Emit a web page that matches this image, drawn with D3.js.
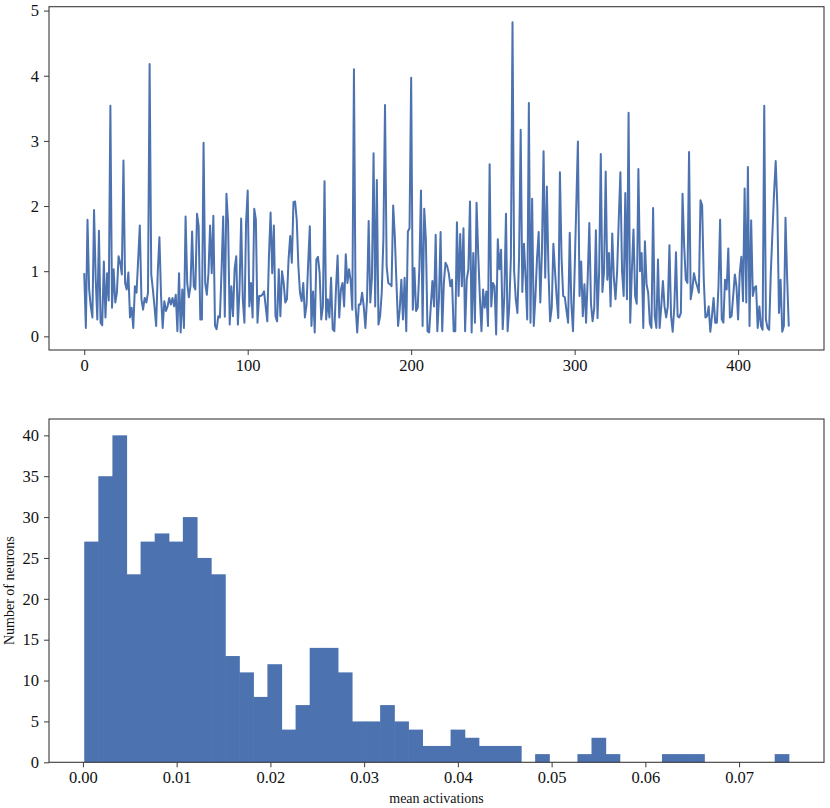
<!DOCTYPE html>
<html><head><meta charset="utf-8">
<script src="https://cdn.jsdelivr.net/npm/d3@7"></script>
<style>
body{margin:0;background:#fff;}
svg text{font-family:"Liberation Serif","Times New Roman",serif;fill:#111;}
</style></head><body><svg id="c" width="830" height="808"></svg>
<script>
// ---- data: top panel (per-neuron trace) ----
const activations = [
0.97,0.13,1.79,0.72,0.46,0.29,1.94,0.9,0.26,1.62,
0.21,0.17,1.15,0.29,0.97,0.55,3.54,0.44,1.03,0.52,
0.67,1.23,1.13,0.95,2.70,0.82,0.72,0.98,0.29,0.44,
0.13,0.77,0.67,1.18,1.70,0.57,0.41,0.59,0.52,0.67,
4.18,0.95,0.72,0.45,0.16,1.0,1.52,0.62,0.13,0.54,
0.39,0.46,0.59,0.49,0.59,0.46,0.64,0.08,0.97,0.06,
0.72,0.13,1.84,0.82,0.6,0.77,1.61,0.77,0.72,1.88,
1.69,0.26,0.26,2.97,0.82,0.64,0.97,1.70,0.97,1.85,
0.16,0.11,0.31,0.29,1.0,1.84,
0.3,2.19,1.75,0.18,0.77,0.31,1.03,1.23,0.18,0.72,
1.81,0.57,0.21,1.74,2.24,0.46,0.82,0.29,1.96,1.79,
0.21,0.62,0.62,0.64,0.69,0.46,0.23,1.23,1.90,0.97,
1.70,0.31,0.23,1.03,0.31,1.0,0.82,0.52,0.57,1.18,
1.54,1.13,2.06,2.07,1.79,1.08,0.67,0.54,0.82,0.29,
0.49,1.13,1.69,0.16,0.69,0.06,1.18,1.22,0.97,0.26,
0.46,2.38,0.26,0.57,0.29,0.9,0.11,0.08,0.72,1.24,
0.29,0.72,0.82,0.46,1.26,0.82,1.03,0.85,0.41,4.10,
0.46,0.06,0.49,0.49,0.67,0.46,
0.13,0.57,1.77,0.52,0.9,2.81,0.46,2.40,0.18,0.31,
0.67,1.49,3.55,1.08,0.82,0.8,0.77,2.01,1.54,0.82,
0.16,0.41,0.87,0.26,0.9,0.08,1.61,1.66,3.97,0.41,
1.05,0.39,0.44,1.03,2.24,0.16,1.96,1.49,0.08,0.06,
0.46,0.85,0.46,1.56,0.08,0.57,1.60,0.08,0.82,1.13,
1.08,0.97,0.77,0.87,0.08,0.08,1.75,0.62,1.57,0.77,
1.66,0.08,0.87,1.03,2.07,0.06,1.28,0.21,2.05,1.28,
0.62,0.08,0.72,0.44,0.69,0.16,2.64,0.46,0.82,0.77,
0.03,1.49,1.03,1.33,0.11,0.62,1.88,
0.08,0.45,1.2,4.82,1.0,0.57,0.36,1.2,3.17,0.68,
1.42,0.9,0.26,3.58,0.21,2.11,0.16,0.6,1.2,1.60,
0.52,1.3,2.84,0.90,2.30,1.0,0.23,0.44,1.42,1.0,
0.6,0.28,2.52,1.2,0.62,0.6,0.4,0.21,1.59,0.5,
0.08,1.0,2.0,2.99,0.62,1.15,0.31,0.8,0.21,0.9,
1.74,0.5,0.23,0.44,1.63,0.28,1.0,2.80,0.68,1.0,
2.53,0.87,1.28,0.46,1.58,0.9,0.57,1.0,1.8,2.52,
1.0,0.62,2.20,0.57,3.43,0.21,1.0,1.64,0.62,0.5,
2.57,1.0,1.28,0.13,1.46,0.8,
0.67,0.2,0.13,1.97,0.31,0.13,1.18,0.13,0.46,0.85,
0.46,0.29,0.46,1.40,0.31,0.07,0.46,1.29,0.31,0.29,
0.36,2.19,1.39,0.87,0.82,2.83,0.57,0.72,0.97,0.85,
0.77,0.67,2.09,2.01,0.87,0.29,0.31,0.46,0.07,0.31,
0.59,0.21,0.21,0.77,1.79,0.26,0.21,0.87,0.72,1.35,
0.29,0.31,0.62,0.95,0.77,0.26,0.97,1.22,0.54,2.27,
0.52,2.60,0.16,1.78,0.62,0.75,0.77,0.13,0.46,0.16,
0.1,3.54,0.26,0.13,0.10,0.97,1.59,2.2,2.69,2.0,
0.36,0.87,0.07,0.16,1.82,0.9,0.15
];
const lineXTicks = [0,100,200,300,400];
const lineYTicks = [0,1,2,3,4,5];

// ---- data: bottom panel (histogram, 50 bins) ----
const histCounts = [
27,35,40,23,27,28,27,30,25,23,
13,11,8,12,4,7,14,14,11,5,
5,7,5,4,2,2,4,3,2,2,
2,0,1,0,0,1,3,1,0,0,
0,1,1,1,0,0,0,0,0,1
];
const histMin = 0.00014, histMax = 0.0753;
const histXTicks = [0,0.01,0.02,0.03,0.04,0.05,0.06,0.07];
const histYTicks = [0,5,10,15,20,25,30,35,40];
const xLabelText = "mean activations";
const yLabelText = "Number of neurons";

// ---- layout ----
const L = 49, R = 824;
const top1 = 6.7, bot1 = 350;
const top2 = 419, bot2 = 762.3;
const blue = "#4C72B0", spine = "#3a3a3a";
const tickFont = 16.5;
const serif = "'Liberation Serif','Times New Roman',serif";

const svg = d3.select("#c");

function pad(ext){ const r = ext[1]-ext[0]; return [ext[0]-0.05*r, ext[1]+0.05*r]; }

function styleAxis(g){
  g.select(".domain").remove();
  g.selectAll(".tick line").attr("stroke", spine).attr("stroke-width", 1);
  g.selectAll(".tick text").attr("font-size", tickFont).attr("fill", "#111")
    .attr("font-family", serif);
}

// ---- top panel ----
const x1 = d3.scaleLinear().domain(pad([0, activations.length-1])).range([L, R]);
const y1 = d3.scaleLinear().domain(pad(d3.extent(activations))).range([bot1, top1]);

const g1 = svg.append("g");
g1.append("path").datum(activations)
  .attr("d", d3.line().x((d,i)=>x1(i)).y(d=>y1(d)))
  .attr("fill","none").attr("stroke", blue).attr("stroke-width", 2)
  .attr("stroke-linejoin","round");
g1.append("rect").attr("x", L).attr("y", top1).attr("width", R-L).attr("height", bot1-top1)
  .attr("fill","none").attr("stroke", spine).attr("stroke-width", 1.1);
g1.append("g").attr("transform", `translate(0,${bot1})`)
  .call(d3.axisBottom(x1).tickValues(lineXTicks).tickSize(5).tickPadding(4).tickFormat(d3.format("d")))
  .call(styleAxis);
g1.append("g").attr("transform", `translate(${L},0)`)
  .call(d3.axisLeft(y1).tickValues(lineYTicks).tickSize(5).tickPadding(5).tickFormat(d3.format("d")))
  .call(styleAxis);

// ---- bottom panel ----
const binW = (histMax - histMin) / histCounts.length;
const bins = histCounts.map((c,i)=>({x0: histMin + i*binW, x1: histMin + (i+1)*binW, n: c}));
const x2 = d3.scaleLinear().domain(pad([histMin, histMax])).range([L, R]);
const y2 = d3.scaleLinear().domain([0, d3.max(histCounts)*1.05]).range([bot2, top2]);

const g2 = svg.append("g");
g2.selectAll("rect.bar").data(bins.filter(b=>b.n>0)).join("rect").attr("class","bar")
  .attr("x", d=>x2(d.x0)).attr("width", d=>x2(d.x1)-x2(d.x0)+0.6)
  .attr("y", d=>y2(d.n)).attr("height", d=>y2(0)-y2(d.n))
  .attr("fill", blue);
g2.append("rect").attr("x", L).attr("y", top2).attr("width", R-L).attr("height", bot2-top2)
  .attr("fill","none").attr("stroke", spine).attr("stroke-width", 1.1);
g2.append("g").attr("transform", `translate(0,${bot2})`)
  .call(d3.axisBottom(x2).tickValues(histXTicks).tickSize(5).tickPadding(4).tickFormat(d3.format(".2f")))
  .call(styleAxis);
g2.append("g").attr("transform", `translate(${L},0)`)
  .call(d3.axisLeft(y2).tickValues(histYTicks).tickSize(5).tickPadding(5).tickFormat(d3.format("d")))
  .call(styleAxis);

svg.append("text").attr("x", (L+R)/2).attr("y", 803).attr("text-anchor","middle")
  .attr("font-size", 14).attr("font-family", serif).text(xLabelText);
svg.append("text").attr("transform", `translate(14,${(top2+bot2)/2}) rotate(-90)`)
  .attr("text-anchor","middle").attr("font-size", 14).attr("font-family", serif).text(yLabelText);
</script></body></html>
